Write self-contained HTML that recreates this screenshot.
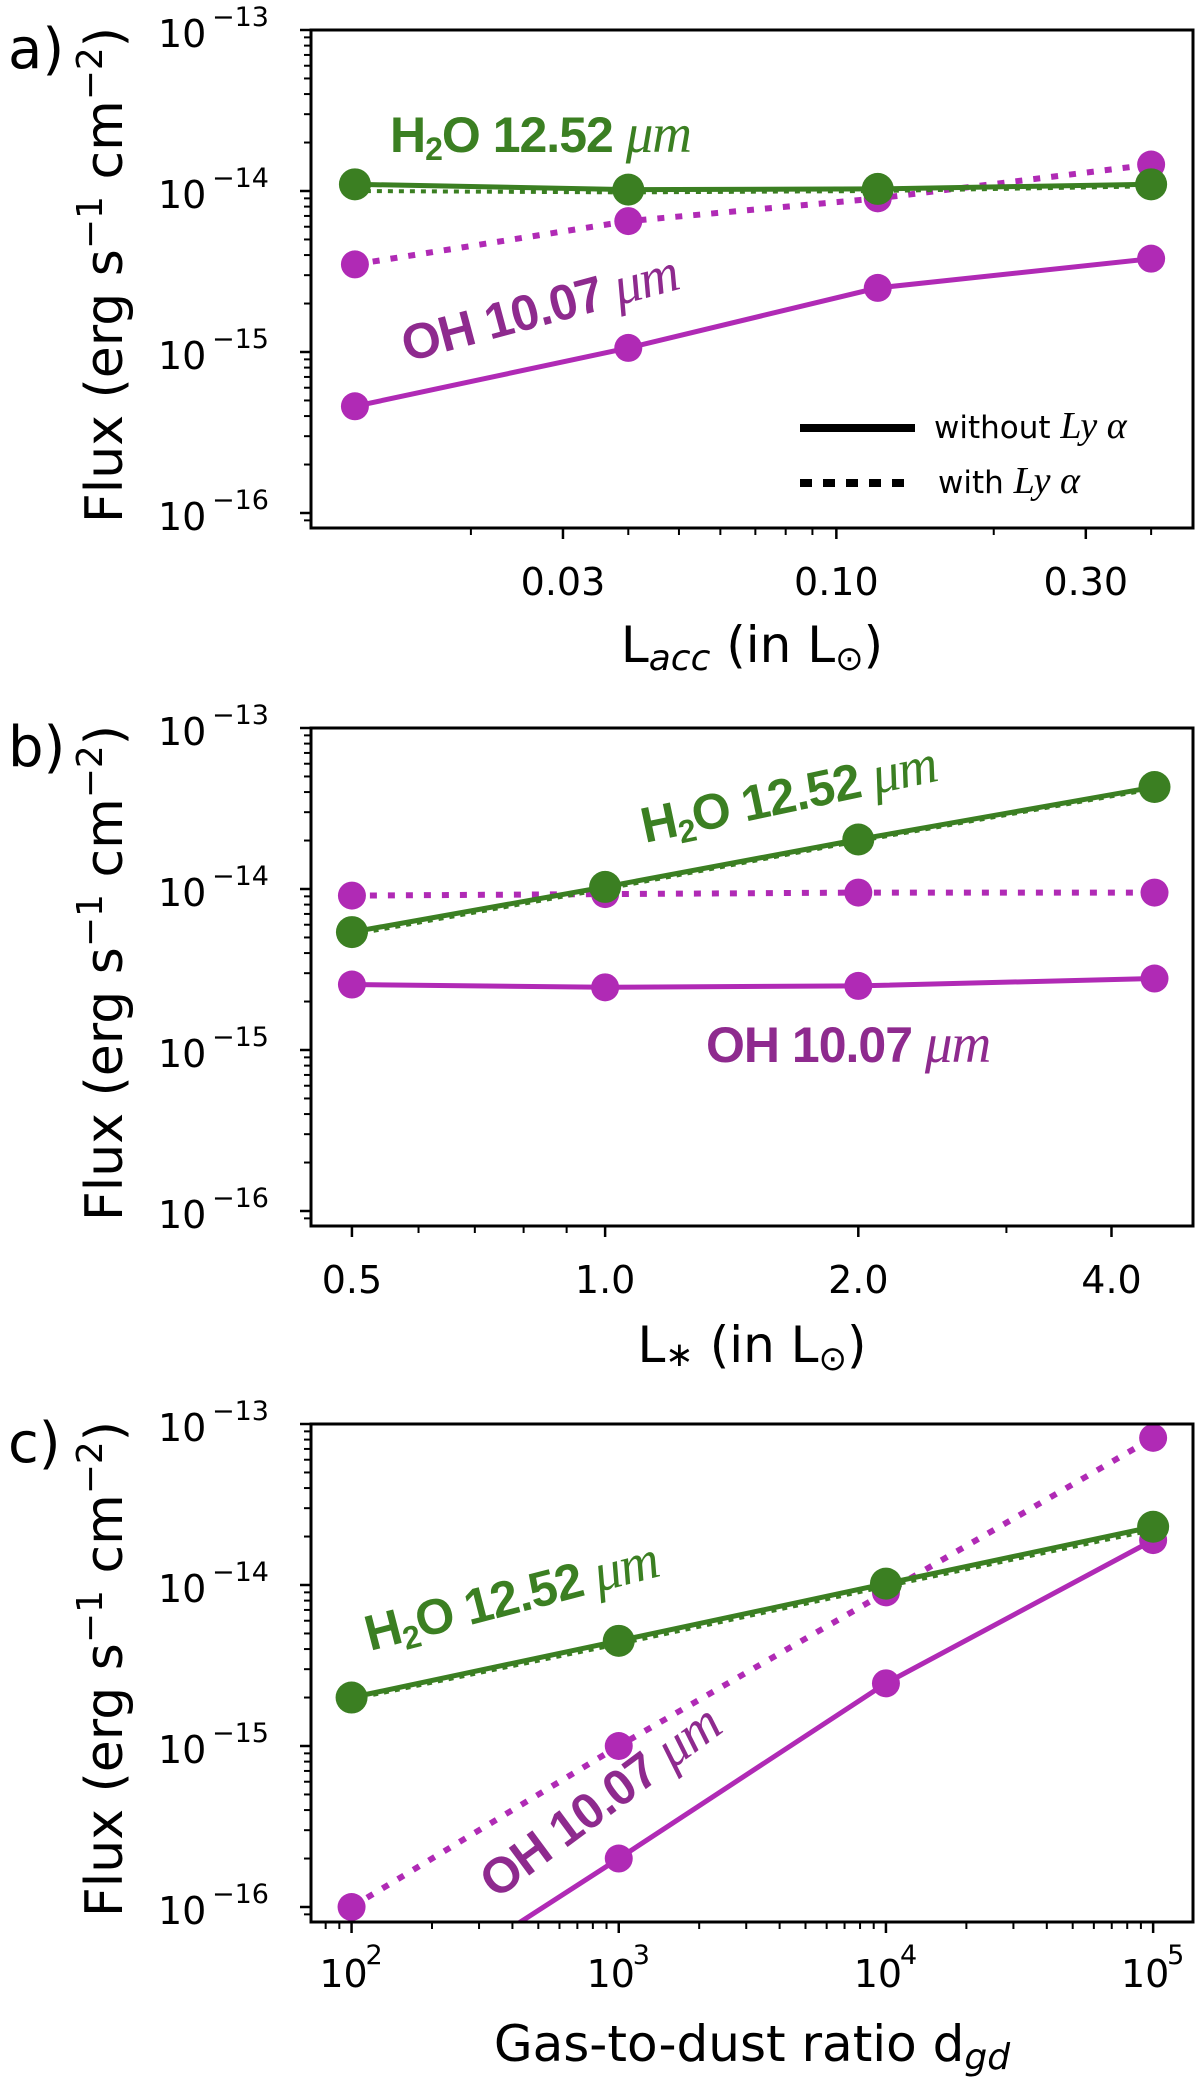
<!DOCTYPE html>
<html><head><meta charset="utf-8"><style>
html,body{margin:0;padding:0;background:#fff}
svg{display:block}
text{font-family:"DejaVu Sans","Liberation Sans",sans-serif}
</style></head><body>
<svg id="fig" width="1200" height="2086" viewBox="0 0 1200 2086" xmlns="http://www.w3.org/2000/svg"></svg>
<script>
// ---- Panel a data ----
const aX = [0.012, 0.04, 0.12, 0.4];
const aH2O = [1.1e-14, 1.02e-14, 1.03e-14, 1.1e-14];
const aH2OLy = [1.0e-14, 0.98e-14, 1.0e-14, 1.07e-14];
const aOH = [4.6e-16, 1.06e-15, 2.5e-15, 3.8e-15];
const aOHLy = [3.5e-15, 6.5e-15, 9e-15, 1.46e-14];
const aTicks = [0.03, 0.1, 0.3];
const aTickLabels = ["0.03", "0.10", "0.30"];
// ---- Panel b data ----
const bX = [0.5, 1.0, 2.0, 4.5];
const bH2O = [5.4e-15, 1.03e-14, 2.03e-14, 4.3e-14];
const bH2OLy = [5.2e-15, 1.0e-14, 1.98e-14, 4.2e-14];
const bOH = [2.55e-15, 2.45e-15, 2.5e-15, 2.78e-15];
const bOHLy = [9.1e-15, 9.3e-15, 9.5e-15, 9.5e-15];
const bTicks = [0.5, 1.0, 2.0, 4.0];
const bTickLabels = ["0.5", "1.0", "2.0", "4.0"];
// ---- Panel c data ----
const cX = [100, 1000, 10000, 100000];
const cH2O = [2.0e-15, 4.5e-15, 1.02e-14, 2.3e-14];
const cH2OLy = [1.95e-15, 4.3e-15, 0.98e-14, 2.2e-14];
const cOH = [1.7e-17, 2.0e-16, 2.45e-15, 1.9e-14];
const cOHLy = [1.0e-16, 1.0e-15, 9e-15, 8.2e-14];
const cTicks = [100, 1000, 10000, 100000];
const cTickExp = ["2", "3", "4", "5"];
const yTickExp = ["−13", "−14", "−15", "−16"];

const NS = "http://www.w3.org/2000/svg";
const svg = document.getElementById("fig");
const GREEN = "#3b7f22", MAG = "#b02ab5", PURP = "#8e2a8e";
const SERIF = 'font-family:"Liberation Serif",serif;font-style:italic;font-weight:normal';
function mk(tag, attrs, parent) {
  const e = document.createElementNS(NS, tag);
  for (const k in attrs) e.setAttribute(k, attrs[k]);
  (parent || svg).appendChild(e);
  return e;
}
const L = 311, R = 1193;

function panel(id, top, xmin, xmax, opts) {
  const g = mk("g", {});
  
  
  const dec = 161;
  const bottom = top + 3 * dec + 15;
  const ly = v => top + (-13 - Math.log10(v)) * dec;
  const lx = v => L + (Math.log10(v) - Math.log10(xmin)) / (Math.log10(xmax) - Math.log10(xmin)) * (R - L);
  const cp = mk("clipPath", { id: "clip" + id }, g);
  mk("rect", { x: L, y: top, width: R - L, height: bottom - top }, cp);
  for (let d = 0; d < 4; d++) {
    const e = -13 - d;
    const y = ly(Math.pow(10, e));
    const t = mk("line", { x1: L - 11, x2: L, y1: y, y2: y, stroke: "#000", "stroke-width": 2.5 }, g);
    
    
    const tx = mk("text", { x: 158, y: y + 17, "font-size": 38, fill: "#000" }, g);
    
    
    tx.textContent = "10";
    const ex = mk("text", { x: 212, y: y - 4, "font-size": 27, fill: "#000" }, g);
    
    
    ex.textContent = yTickExp[d];
    for (let m = 2; m <= 9; m++) {
      const yy = ly(m * Math.pow(10, e - 1));
      if (yy > bottom) continue;
      mk("line", { x1: L - 7, x2: L, y1: yy, y2: yy, stroke: "#000", "stroke-width": 2 }, g);
    }
  }
  opts.minor.forEach(v => { const x = lx(v); if (x > L && x < R) mk("line", { x1: x, x2: x, y1: bottom, y2: bottom + 7, stroke: "#000", "stroke-width": 2 }, g); });
  opts.ticks.forEach((v, i) => {
    const x = lx(v);
    const t = mk("line", { x1: x, x2: x, y1: bottom, y2: bottom + 11, stroke: "#000", "stroke-width": 2.5 }, g);
    
    
    if (opts.exp) {
      const tx = mk("text", { x: x - 8, y: bottom + 65, "font-size": 38, "text-anchor": "middle", fill: "#000" }, g);
      
      
      tx.textContent = "10";
      const ex = mk("text", { x: x + 14, y: bottom + 42, "font-size": 27, fill: "#000" }, g);
      
      
      ex.textContent = opts.exp[i];
    } else {
      const tx = mk("text", { x: x, y: bottom + 67, "font-size": 38, "text-anchor": "middle", fill: "#000" }, g);
      
      
      tx.textContent = opts.labels[i];
    }
  });
  const sg = mk("g", { "clip-path": "url(#clip" + id + ")" }, g);
  function series(xs, ys, color, style, name, markers) {
    const pts = xs.map((x, i) => lx(x).toFixed(1) + "," + ly(ys[i]).toFixed(1)).join(" ");
    const a = { points: pts, fill: "none", stroke: color, "stroke-width": 5 };
    if (style === "dot") { a["stroke-dasharray"] = "7 11"; a["stroke-width"] = 6; }
    if (style === "dash") { a["stroke-dasharray"] = "5 6"; a["stroke-width"] = 4; }
    const p = mk("polyline", a, sg);
    
    
    if (markers) xs.forEach((x, i) => {
      const c = mk("circle", { cx: lx(x), cy: ly(ys[i]), r: markers, fill: color }, sg);
      
      
    });
  }
  series(opts.x, opts.ohly, MAG, "dot", "oh-with-lya", 14);
  series(opts.x, opts.oh, MAG, "solid", "oh-without-lya", 14);
  series(opts.x, opts.h2oly, GREEN, "dash", "h2o-with-lya", 0);
  series(opts.x, opts.h2o, GREEN, "solid", "h2o-without-lya", 16);
  const f = mk("rect", { x: L, y: top, width: R - L, height: bottom - top, fill: "none", stroke: "#000", "stroke-width": 3 }, g);
  
  
  const yl = mk("text", { x: 0, y: 0, "font-size": 52, "text-anchor": "middle", fill: "#000", transform: "translate(122," + (top + 245) + ") rotate(-90)" }, g);
  
  
  yl.innerHTML = 'Flux (erg s<tspan dy="-20" font-size="36">−1</tspan><tspan dy="20"> cm</tspan><tspan dy="-20" font-size="36">−2</tspan><tspan dy="20">)</tspan>';
  const pl = mk("text", { x: 8, y: top + 38, "font-size": 56, fill: "#000" }, g);
  
  
  pl.textContent = id + ")";
  return { top, bottom, g };
}

function annot(g, x, y, rot, color, kind, name) {
  const t = mk("text", { x: 0, y: 0, fill: color, transform: "translate(" + x + "," + y + ") rotate(" + rot + ")", style: 'font-family:"Liberation Sans",sans-serif;font-weight:bold;font-size:50px;letter-spacing:-1px' }, g);
  
  
  if (kind === "h2o") t.innerHTML = 'H<tspan font-size="32" dy="8">2</tspan><tspan dy="-8">O 12.52 </tspan><tspan style=\'' + SERIF + ';font-size:55px\'>μm</tspan>';
  else t.innerHTML = 'OH 10.07 <tspan style=\'' + SERIF + ';font-size:55px\'>μm</tspan>';
}

const pa = panel("a", 30, 0.00989, 0.481, { x: aX, h2o: aH2O, h2oly: aH2OLy, oh: aOH, ohly: aOHLy, ticks: aTicks, labels: aTickLabels, minor: [0.02,0.04,0.05,0.06,0.07,0.08,0.09,0.2,0.4] });
annot(pa.g, 390, 152, 0, GREEN, "h2o", "h2o-annotation");
annot(pa.g, 407, 362, -15, PURP, "oh", "oh-annotation");
const xa = mk("text", { x: 752, y: 662, "font-size": 50, "text-anchor": "middle", fill: "#000" }, pa.g);


xa.innerHTML = 'L<tspan font-size="36" font-style="italic" dy="8">acc</tspan><tspan dy="-8"> (in L</tspan><tspan font-size="34" dy="8">⊙</tspan><tspan dy="-8">)</tspan>';
const lg = mk("g", {}, pa.g);


mk("line", { x1: 800, x2: 915, y1: 428, y2: 428, stroke: "#000", "stroke-width": 8 }, lg);
mk("line", { x1: 800, x2: 915, y1: 483, y2: 483, stroke: "#000", "stroke-width": 8, "stroke-dasharray": "12 11" }, lg);
const l1 = mk("text", { x: 934, y: 438, "font-size": 31, fill: "#000" }, lg);


l1.innerHTML = 'without <tspan style=\'' + SERIF + ';font-size:38px\'>Ly α</tspan>';
const l2 = mk("text", { x: 938, y: 493, "font-size": 31, fill: "#000" }, lg);


l2.innerHTML = 'with <tspan style=\'' + SERIF + ';font-size:38px\'>Ly α</tspan>';

const pb = panel("b", 728, 0.447, 5.0, { x: bX, h2o: bH2O, h2oly: bH2OLy, oh: bOH, ohly: bOHLy, ticks: bTicks, labels: bTickLabels, minor: [0.6,0.7,0.8,0.9,3.0,5.0] });
annot(pb.g, 645, 843, -12, GREEN, "h2o", "h2o-annotation");
annot(pb.g, 706, 1062, 0, PURP, "oh", "oh-annotation");
const xb = mk("text", { x: 752, y: 1362, "font-size": 50, "text-anchor": "middle", fill: "#000" }, pb.g);


xb.innerHTML = 'L<tspan font-size="34" dy="4">∗</tspan><tspan dy="-4"> (in L</tspan><tspan font-size="34" dy="8">⊙</tspan><tspan dy="-8">)</tspan>';

const cm = [];
[100, 1000, 10000].forEach(d => { for (let m = 2; m <= 9; m++) cm.push(m * d); });
cm.push(80, 90);
const pc = panel("c", 1424, 70.5, 141000, { x: cX, h2o: cH2O, h2oly: cH2OLy, oh: cOH, ohly: cOHLy, ticks: cTicks, exp: cTickExp, minor: cm });
annot(pc.g, 370, 1651, -14.5, GREEN, "h2o", "h2o-annotation");
annot(pc.g, 496, 1900, -36.5, PURP, "oh", "oh-annotation");
const xc = mk("text", { x: 752, y: 2061, "font-size": 50, "text-anchor": "middle", fill: "#000" }, pc.g);


xc.innerHTML = 'Gas-to-dust ratio d<tspan font-size="36" font-style="italic" dy="8">gd</tspan>';
</script>
</body></html>
